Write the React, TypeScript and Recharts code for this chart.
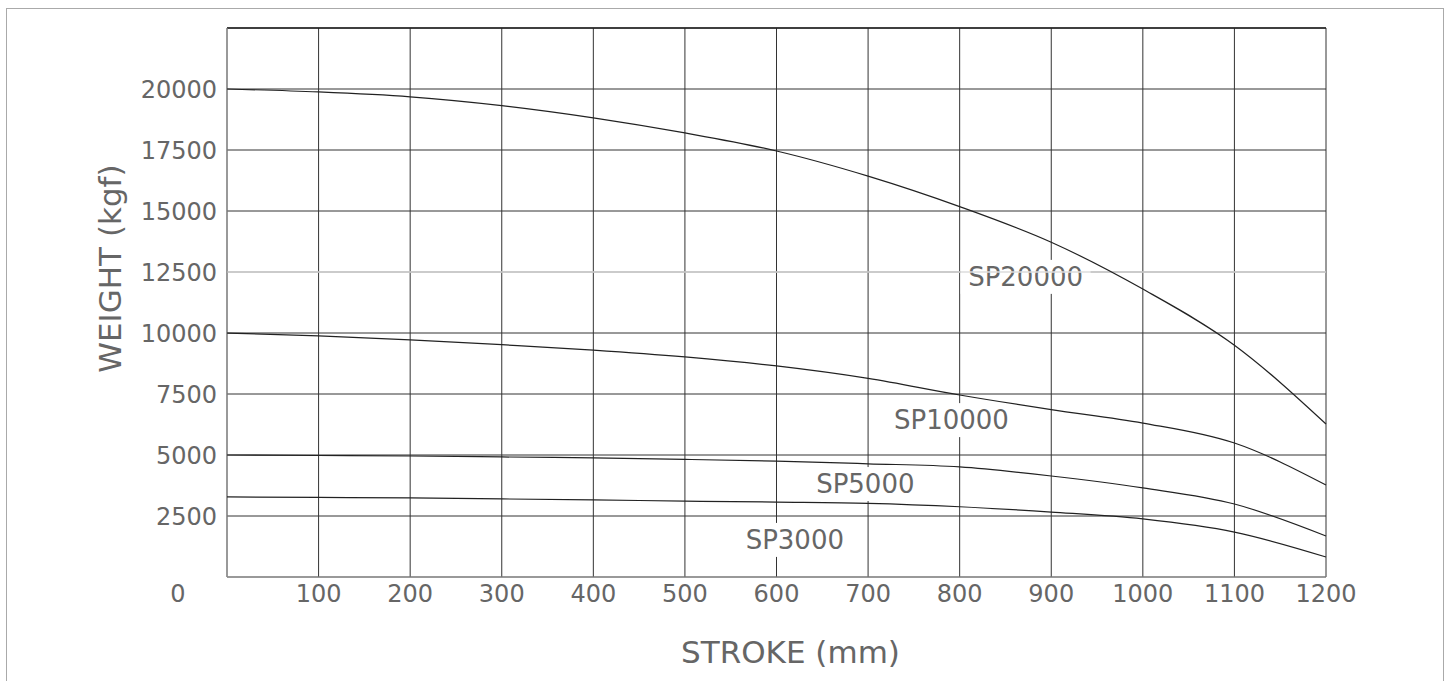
import { CartesianGrid, Line, LineChart, ReferenceDot, ReferenceLine, XAxis, YAxis } from "recharts";

const STROKES = [0, 100, 200, 300, 400, 500, 600, 700, 800, 900, 1000, 1100, 1200];
const SP20000 = [20000, 19880, 19680, 19320, 18820, 18200, 17460, 16430, 15180, 13720, 11800, 9500, 6270];
const SP10000 = [10000, 9880, 9720, 9520, 9300, 9020, 8650, 8140, 7460, 6860, 6310, 5490, 3770];
const SP5000 = [5000, 4980, 4960, 4920, 4880, 4820, 4750, 4640, 4510, 4140, 3650, 2990, 1680];
const SP3000 = [3280, 3260, 3240, 3200, 3160, 3110, 3070, 3020, 2880, 2660, 2380, 1840, 820];

const Y_TICKS = [0, 2500, 5000, 7500, 10000, 12500, 15000, 17500, 20000, 22500];

// curve names and where they sit (stroke, weight)
const LABELS = ["SP20000", "SP10000", "SP5000", "SP3000"];
const LABEL_X = [872, 791, 697, 620];
const LABEL_Y = [12300, 6430, 3810, 1520];
const LABEL_W = [130, 128, 116, 112];

const FONT = "'DejaVu Sans', sans-serif";
const INK = "#666";

const data = STROKES.map((s, i) => ({
  stroke: s,
  sp20000: SP20000[i],
  sp10000: SP10000[i],
  sp5000: SP5000[i],
  sp3000: SP3000[i],
}));

function XTick({ x, y, payload }: any) {
  const v = payload.value;
  return (
    <text x={v === 0 ? x - 49 : x} y={y} dy={17} textAnchor="middle" fill={INK} fontSize={24} fontFamily={FONT}>
      {v}
    </text>
  );
}

function tagShape(name: string, w: number) {
  return (p: any) => (
    <g>
      <rect x={p.cx - w / 2} y={p.cy - 17} width={w} height={34} fill="#fff" />
      <text x={p.cx} y={p.cy} dy={9} textAnchor="middle" fill={INK} fontSize={26} fontFamily={FONT}>
        {name}
      </text>
    </g>
  );
}

export default function App() {
  return (
    <div style={{ position: "absolute", left: 0, top: 0, width: 1448, height: 681, background: "#fff", overflow: "hidden" }}>
      <div style={{ position: "absolute", left: 6, top: 8, width: 1436, height: 690, border: "1px solid #aaa" }} />
      <div style={{ position: "absolute", left: 0, top: 0 }}>
        <LineChart width={1448} height={681} data={data} margin={{ top: 28, right: 122, bottom: 54, left: 0 }}>
          <CartesianGrid stroke="#333" />
          <ReferenceLine y={12500} stroke="#ddd" strokeWidth={1.5} />
          <XAxis
            dataKey="stroke"
            type="number"
            domain={[0, 1200]}
            ticks={STROKES}
            height={50}
            tickLine={false}
            tickSize={0}
            tickMargin={8}
            stroke="#999"
            tick={<XTick />}
            label={{ value: "STROKE (mm)", position: "insideBottom", offset: -36, dx: 14, fill: INK, fontSize: 31, fontFamily: FONT }}
          />
          <YAxis
            type="number"
            domain={[0, 22500]}
            ticks={Y_TICKS}
            width={227}
            tickLine={false}
            tickSize={0}
            tickMargin={10}
            stroke="#999"
            tickFormatter={(v: number) => (v === 0 || v === 22500 ? "" : String(v))}
            tick={{ fill: INK, fontSize: 24, fontFamily: FONT }}
            label={{ value: "WEIGHT (kgf)", angle: -90, position: "center", dx: -4, dy: -34, fill: INK, fontSize: 31, fontFamily: FONT }}
          />
          <ReferenceLine y={22500} stroke="#222" strokeWidth={1.5} />
          {LABELS.map((n, i) => (
            <ReferenceDot key={n} x={LABEL_X[i]} y={LABEL_Y[i]} r={0} zIndex={-50} shape={tagShape(n, LABEL_W[i])} />
          ))}
          <Line dataKey="sp20000" type="monotone" stroke="#222" strokeWidth={1.2} dot={false} zIndex={1000} isAnimationActive={false} />
          <Line dataKey="sp10000" type="monotone" stroke="#222" strokeWidth={1.2} dot={false} zIndex={1000} isAnimationActive={false} />
          <Line dataKey="sp5000" type="monotone" stroke="#222" strokeWidth={1.2} dot={false} zIndex={1000} isAnimationActive={false} />
          <Line dataKey="sp3000" type="monotone" stroke="#222" strokeWidth={1.2} dot={false} zIndex={1000} isAnimationActive={false} />
        </LineChart>
      </div>
    </div>
  );
}
